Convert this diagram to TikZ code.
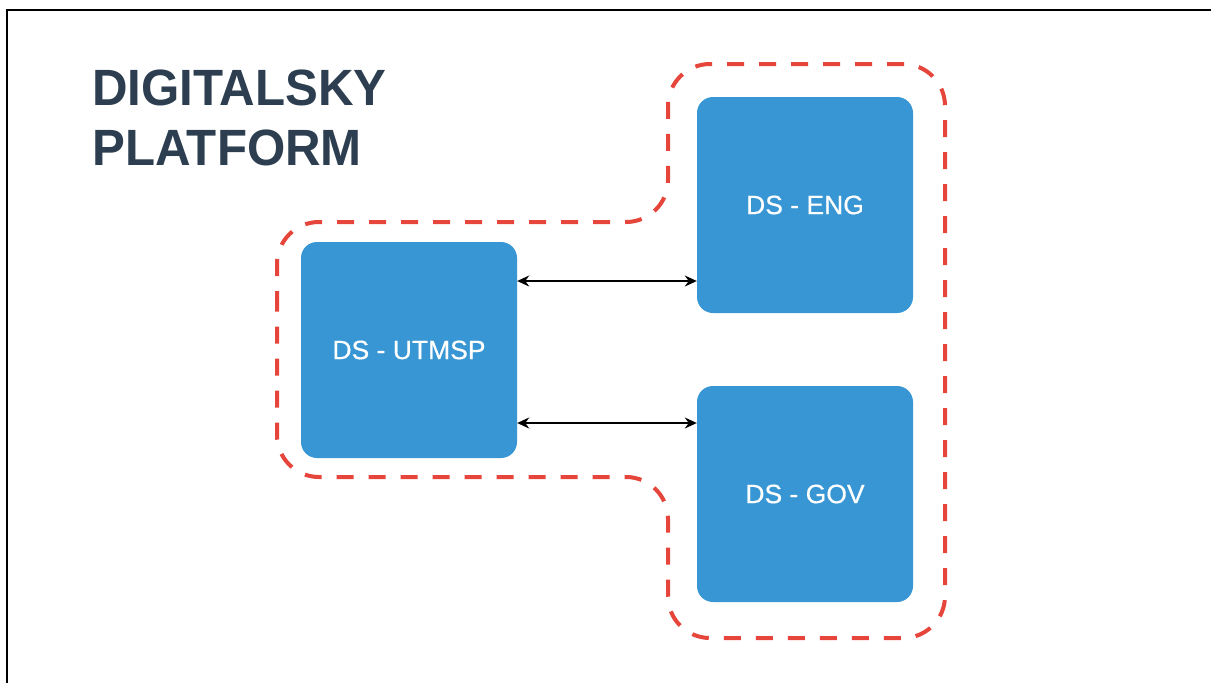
\documentclass[tikz,border=0pt]{standalone}
\usepackage{fontspec}
\setmainfont{Liberation Sans}
\newfontface\medfont[FakeBold=0.5]{Liberation Sans}
\usetikzlibrary{arrows.meta}
\definecolor{boxblue}{HTML}{3796D3}
\definecolor{dashred}{HTML}{E5453A}
\definecolor{titlenavy}{HTML}{2C3E50}
\tikzset{
  dsbox/.style={fill=boxblue, draw=none, rounded corners=16pt, minimum width=216pt, minimum height=216pt, inner sep=0pt, text=white, font=\medfont\fontsize{26.5}{30}\selectfont},
  link/.style={draw=black, line width=1.4pt, {Stealth[length=12pt,width=11pt]}-{Stealth[length=12pt,width=11pt]}},
  boundary/.style={draw=dashred, line width=4pt, dash pattern=on 17pt off 15pt, rounded corners=42pt},
  frameline/.style={draw=black, line width=2pt},
  title/.style={anchor=base west, inner sep=0pt, text=titlenavy, font=\fontsize{51}{60}\selectfont\bfseries}
}
\begin{document}
\begin{tikzpicture}[x=1pt,y=-1pt]
\useasboundingbox (0,0) rectangle (1211,683);
\fill[white] (0,0) rectangle (1211,683);
% frame (top and left edges)
\draw[frameline] (7,683) -- (7,10) -- (1211,10);
% title
\node[title] (t1) at (92,105) {\scalebox{0.965}[1]{DIGITALSKY}};
\node[title] (t2) at (92,165) {\scalebox{0.965}[1]{PLATFORM}};
% dashed boundary
\draw[boundary] (277,350) -- (277,222) -- (668,222) -- (668,64) -- (945,64) -- (945,638) -- (668,638) -- (668,477) -- (277,477) -- cycle;
% boxes
\node[dsbox] (utmsp) at (409,350) {DS - UTMSP};
\node[dsbox] (eng) at (805,205) {DS - ENG};
\node[dsbox] (gov) at (805,494) {DS - GOV};
% links
\coordinate (a1) at (utmsp.east |- 0,281);
\coordinate (b1) at (eng.west |- 0,281);
\coordinate (a2) at (utmsp.east |- 0,423);
\coordinate (b2) at (gov.west |- 0,423);
\draw[link] (a1) -- (b1);
\draw[link] (a2) -- (b2);
\end{tikzpicture}
\end{document}
